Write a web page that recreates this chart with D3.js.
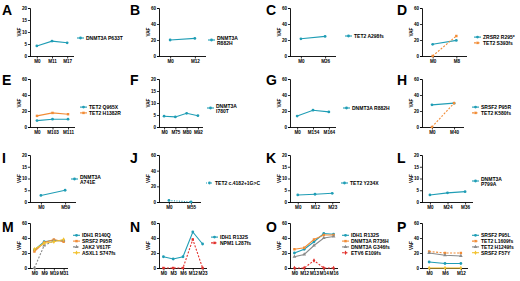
<!DOCTYPE html>
<html><head><meta charset="utf-8">
<script src="https://cdn.jsdelivr.net/npm/d3@7"></script>
<style>
body{margin:0;background:#fff}
svg{display:block}
text{font-family:"Liberation Sans",Arial,sans-serif;font-weight:bold;fill:#000}
</style>
</head><body>
<svg id="c" width="520" height="281"></svg>
<script>
// ---------- data ----------
const catsA = ["M0","M11","M17"];
const A_DNMT3A_P633T = [4.2, 6.2, 5.5];
const catsB = ["M0","M12"];
const B_DNMT3A_R882H = [20, 22];
const catsC = ["M0","M26"];
const C_TET2_A298fs = [21.5, 24.5];
const catsD = ["M0","M8"];
const D_ZRSR2_R295 = [14.6, 19.5];
const D_TET2_S393fs = [0, 25];
const catsE = ["M0","M103","M111"];
const E_TET2_Q965X = [8, 9.7, 9.7];
const E_TET2_H1382R = [13.9, 17.6, 16];
const catsF = ["M0","M75","M80","M92"];
const F_DNMT3A_I780T = [4.5, 4.2, 5.7, 4.7];
const catsG = ["M0","M154","M164"];
const G_DNMT3A_R882H = [13.7, 21, 18.9];
const catsH = ["M0","M40"];
const H_SRSF2_P95R = [27.7, 29.8];
const H_TET2_K580fs = [0, 29.8];
const catsI = ["M0","M59"];
const I_DNMT3A_A741E = [2.8, 5];
const catsJ = ["M0","M55"];
const J_TET2_c4182 = [2, 0];
const catsK = ["M0","M12","M23"];
const K_TET2_Y234X = [3, 3.3, 3.7];
const catsL = ["M0","M24","M36"];
const L_DNMT3A_P799A = [3, 3.9, 4.4];
const catsM = ["M0","M9","M19","M31"];
const M_IDH1_R140Q = [24, 35, 37, 36];
const M_SRSF2_P95R = [22, 34, 38, 35];
const M_JAK2_V617F = [0, 30, 36, 37];
const M_ASXL1_S747fs = [25, 33, 35, 38];
const catsN = ["M0","M3","M6","M12","M23"];
const N_IDH1_R132S = [15, 12, 15, 48, 32];
const N_NPM1_L287fs = [0, 0, 0, 38, 0];
const catsO = ["M0","M12","M13","M14","M16"];
const O_IDH1_R132S = [20, 25, 35, 46, 45];
const O_DNMT3A_R736H = [25, 27, 38, 44, 44];
const O_DNMT3A_G346fs = [15, 18, 30, 40, 42];
const O_ETV6_E109fs = [0, 0, 10, 0, 0];
const catsP = ["M0","M6","M12"];
const P_SRSF2_P95L = [8, 6, 6];
const P_TET2_L1609fs = [22, 20, 20];
const P_TET2_H1249fs = [20, 17, 16];
const P_SRSF2_F57Y = [0, 0, 0];

const ticks20 = [0, 5, 10, 15, 20];
const ticks60 = [0, 20, 40, 60];

// ---------- styles ----------
const TEAL = "#1f9db5", ORANGE = "#f28c36", GRAY = "#8a8a8a", RED = "#e2302c", YELLOW = "#f2c230";

const panels = [
  {id:"A", cats:catsA, ticks:ticks20, series:[{name:["DNMT3A P633T"], v:A_DNMT3A_P633T, c:TEAL, s:"circle"}]},
  {id:"B", cats:catsB, ticks:ticks60, series:[{name:["DNMT3A","R882H"], v:B_DNMT3A_R882H, c:TEAL, s:"circle"}]},
  {id:"C", cats:catsC, ticks:ticks60, series:[{name:["TET2 A298fs"], v:C_TET2_A298fs, c:TEAL, s:"circle"}]},
  {id:"D", cats:catsD, ticks:ticks60, series:[{name:["ZRSR2 R295*"], v:D_ZRSR2_R295, c:TEAL, s:"circle"},
                                               {name:["TET2 S393fs"], v:D_TET2_S393fs, c:ORANGE, s:"square", dash:"2,1.5"}]},
  {id:"E", cats:catsE, ticks:ticks60, series:[{name:["TET2 Q965X"], v:E_TET2_Q965X, c:TEAL, s:"circle"},
                                               {name:["TET2 H1382R"], v:E_TET2_H1382R, c:ORANGE, s:"square"}]},
  {id:"F", cats:catsF, ticks:ticks20, series:[{name:["DNMT3A","I780T"], v:F_DNMT3A_I780T, c:TEAL, s:"circle"}]},
  {id:"G", cats:catsG, ticks:ticks60, series:[{name:["DNMT3A R882H"], v:G_DNMT3A_R882H, c:TEAL, s:"circle"}]},
  {id:"H", cats:catsH, ticks:ticks60, series:[{name:["SRSF2 P95R"], v:H_SRSF2_P95R, c:TEAL, s:"circle"},
                                               {name:["TET2 K580fs"], v:H_TET2_K580fs, c:ORANGE, s:"square", dash:"2,1.5"}]},
  {id:"I", cats:catsI, ticks:ticks20, series:[{name:["DNMT3A","A741E"], v:I_DNMT3A_A741E, c:TEAL, s:"circle"}]},
  {id:"J", cats:catsJ, ticks:ticks60, series:[{name:["TET2 c.4182+1G>C"], v:J_TET2_c4182, c:TEAL, s:"circle", dash:"1,1.5"}]},
  {id:"K", cats:catsK, ticks:ticks20, series:[{name:["TET2 Y234X"], v:K_TET2_Y234X, c:TEAL, s:"circle"}]},
  {id:"L", cats:catsL, ticks:ticks20, series:[{name:["DNMT3A","P799A"], v:L_DNMT3A_P799A, c:TEAL, s:"circle"}]},
  {id:"M", cats:catsM, ticks:ticks60, series:[{name:["IDH1 R140Q"], v:M_IDH1_R140Q, c:TEAL, s:"circle"},
                                               {name:["SRSF2 P95R"], v:M_SRSF2_P95R, c:ORANGE, s:"square"},
                                               {name:["JAK2 V617F"], v:M_JAK2_V617F, c:GRAY, s:"triangle", dash:"2,1.5"},
                                               {name:["ASXL1 S747fs"], v:M_ASXL1_S747fs, c:YELLOW, s:"diamond"}]},
  {id:"N", cats:catsN, ticks:ticks60, series:[{name:["IDH1 R132S"], v:N_IDH1_R132S, c:TEAL, s:"circle"},
                                               {name:["NPM1 L287fs"], v:N_NPM1_L287fs, c:RED, s:"square", dash:"2,1.5"}]},
  {id:"O", cats:catsO, ticks:ticks60, series:[{name:["IDH1 R132S"], v:O_IDH1_R132S, c:TEAL, s:"circle"},
                                               {name:["DNMT3A R736H"], v:O_DNMT3A_R736H, c:ORANGE, s:"square"},
                                               {name:["DNMT3A G346fs"], v:O_DNMT3A_G346fs, c:GRAY, s:"triangle"},
                                               {name:["ETV6 E109fs"], v:O_ETV6_E109fs, c:RED, s:"diamond", dash:"2,1.5"}]},
  {id:"P", cats:catsP, ticks:ticks60, series:[{name:["SRSF2 P95L"], v:P_SRSF2_P95L, c:TEAL, s:"circle"},
                                               {name:["TET2 L1609fs"], v:P_TET2_L1609fs, c:ORANGE, s:"square", dash:"2,1.5"},
                                               {name:["TET2 H1249fs"], v:P_TET2_H1249fs, c:GRAY, s:"triangle"},
                                               {name:["SRSF2 F57Y"], v:P_SRSF2_F57Y, c:YELLOW, s:"diamond"}]}
];

// ---------- layout ----------
const colAxisX = [30, 159, 290, 422];
const colLetterX = [2, 130, 266, 397];
const rowTop = [8, 79, 155, 223];
const rowBottom = [56, 127, 202, 268];
const rowLetterY = [15, 85, 163, 232];
const axisW = [[44,47,46,45],[45,44,46,42],[46,42,50,51],[38,48,48,46]];
const legOff = [[47,49,55,52],[50,48,53,50],[41,47,51,50],[43,52,52,50]];
const legY = [[38,40,36,40],[110,108,108,110],[179,183,183,181],[244,240,244,244]];

const svg = d3.select("#c");
const sym = {circle:d3.symbolCircle, square:d3.symbolSquare, triangle:d3.symbolTriangle, diamond:d3.symbolDiamond};

panels.forEach((p, i) => {
  const col = i % 4, row = Math.floor(i / 4);
  const ax = colAxisX[col], yT = rowTop[row], yB = rowBottom[row];
  const w = axisW[row][col];
  const yMax = d3.max(p.ticks);
  const y = d3.scaleLinear().domain([0, yMax]).range([yB, yT]);
  const x = d3.scalePoint().domain(p.cats).range([ax, ax + w]).padding(0.45);
  const g = svg.append("g");

  g.append("text").attr("x", colLetterX[col]).attr("y", rowLetterY[row])
    .attr("font-size", 14).text(p.id);

  const ya = g.append("g").attr("transform", `translate(${ax},0)`)
    .call(d3.axisLeft(y).tickValues(p.ticks).tickSize(2).tickPadding(1).tickFormat(d3.format("d")));
  ya.selectAll("text").attr("font-size", 4.6).attr("font-weight", "bold").attr("font-family", "Liberation Sans, Arial");
  ya.select(".domain").attr("stroke-width", 0.9);
  ya.selectAll(".tick line").attr("stroke-width", 0.8);

  const xa = g.append("g").attr("transform", `translate(0,${yB + 0.5})`)
    .call(d3.axisBottom(x).tickSize(2).tickPadding(1.5));
  xa.select(".domain").attr("d", `M${ax - 2},0H${ax + w}`).attr("stroke-width", 0.9);
  xa.selectAll("text").attr("font-size", 4.6).attr("font-weight", "bold").attr("font-family", "Liberation Sans, Arial");
  xa.selectAll(".tick line").attr("stroke-width", 0.8);

  g.append("text").attr("transform", `translate(${ax - 9},${(yT + yB) / 2}) rotate(-90)`)
    .attr("text-anchor", "middle").attr("font-size", 4.6).text("VAF");

  const line = d3.line().x((d, j) => x(p.cats[j])).y(d => y(d));
  const lx = ax + legOff[row][col];
  const n = p.series.length;
  p.series.forEach((s, k) => {
    g.append("path").datum(s.v).attr("d", line).attr("fill", "none")
      .attr("stroke", s.c).attr("stroke-width", 1.1).attr("stroke-dasharray", s.dash || null);
    g.selectAll(null).data(s.v).enter().append("path")
      .attr("transform", (d, j) => `translate(${x(p.cats[j])},${y(d)})`)
      .attr("d", d3.symbol().type(sym[s.s]).size(6)).attr("fill", s.c);
    const ly = legY[row][col] + (k - (n - 1) / 2) * 5.8;
    g.append("line").attr("x1", lx).attr("x2", lx + 7).attr("y1", ly).attr("y2", ly)
      .attr("stroke", s.c).attr("stroke-width", 1.1).attr("stroke-dasharray", s.dash || null);
    g.append("path").attr("transform", `translate(${lx + 3.5},${ly})`)
      .attr("d", d3.symbol().type(sym[s.s]).size(6)).attr("fill", s.c);
    const t = g.append("text").attr("x", lx + 9).attr("y", ly - (s.name.length - 1) * 2.4)
      .attr("dominant-baseline", "central").attr("font-size", 5);
    s.name.forEach((nm, q) => t.append("tspan").attr("x", lx + 9).attr("dy", q ? 5 : 0).text(nm));
  });
});
</script>
</body></html>
